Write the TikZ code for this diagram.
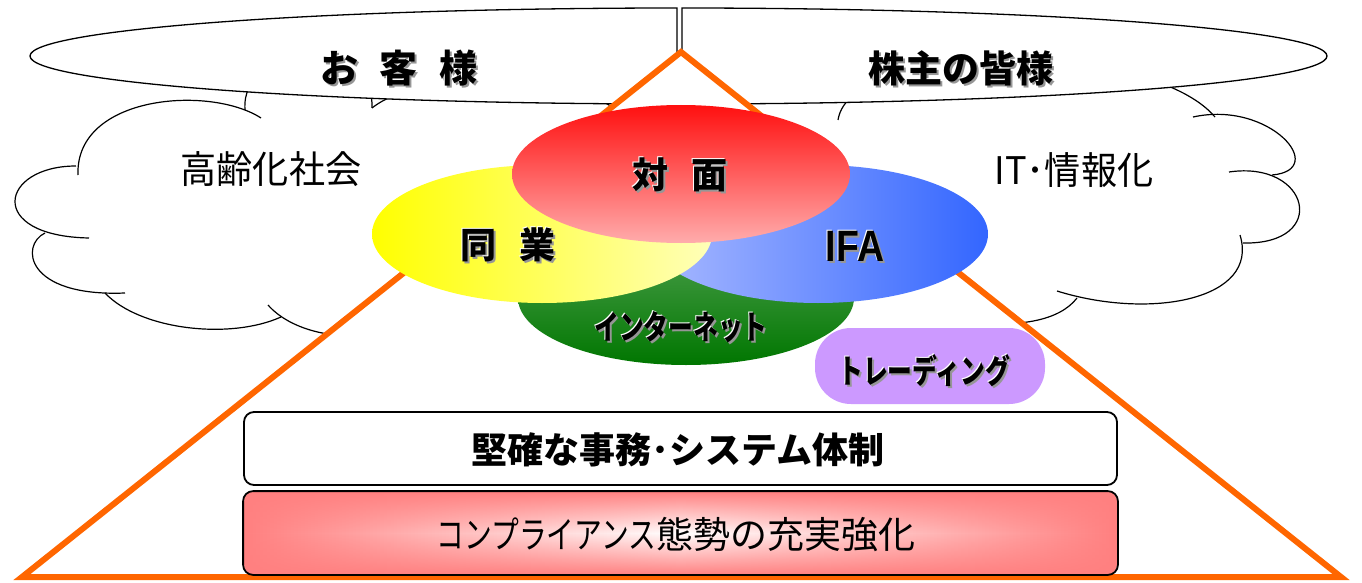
\documentclass[tikz,border=0pt]{standalone}
\usepackage{fontspec}
\setmainfont{Noto Sans CJK JP}
\newfontfamily\jpn{Noto Sans CJK JP}
\newfontfamily\jpnc[FakeStretch=0.75]{Noto Sans CJK JP}
\newfontfamily\jpns[FakeStretch=0.95]{Noto Sans CJK JP}
\newfontfamily\ifaf[FakeStretch=0.85]{Liberation Sans}
\usetikzlibrary{shapes.geometric,fadings}
\definecolor{orng}{RGB}{255,102,0}
\definecolor{shgray}{RGB}{150,150,150}
\definecolor{redtop}{RGB}{255,16,16}
\definecolor{redbot}{RGB}{255,172,172}
\definecolor{yelL}{RGB}{255,255,0}
\definecolor{yelR}{RGB}{255,255,185}
\definecolor{bluL}{RGB}{170,186,255}
\definecolor{bluR}{RGB}{51,102,255}
\definecolor{grnT}{RGB}{82,162,82}
\definecolor{grnB}{RGB}{0,118,0}
\definecolor{purp}{RGB}{204,153,255}
\definecolor{pinkc}{RGB}{255,128,128}
\tikzfading[name=vedge, top color=transparent!0, bottom color=transparent!0, middle color=transparent!100]
\newcommand{\fs}[1]{\fontsize{#1}{#1}\selectfont}
\newcommand{\shl}[4]{%
  \node[shadowtxt] (#1s) at (#2+2,#3+2) {#4};
  \node[halotxt] (#1w) at (#2-1,#3-1) {#4};
  \node[txt] (#1) at (#2,#3) {#4};}
\begin{document}
\begin{tikzpicture}[x=1pt,y=-1pt,
  txt/.style={inner sep=0pt, text=black},
  shadowtxt/.style={inner sep=0pt, text=shgray},
  halotxt/.style={inner sep=0pt, text=white},
  cloudline/.style={draw=black, line width=1.2pt},
  topshape/.style={draw=black, fill=white, line width=1.3pt},
  tri/.style={draw=orng, fill=white, line width=6pt, line join=miter},
  venn/.style={ellipse, inner sep=0pt, draw=none},
  boxa/.style={draw=black, line width=1.8pt, rounded corners=10pt, inner sep=0pt}]
\useasboundingbox (0,0) rectangle (1362,583);
% left cloud
\begin{scope}[cloudline]
\draw (76,166) .. controls (0,166) and (-15,236) .. (89,238);
\draw (45,233) .. controls (20,245) and (25,297) .. (125,293);
\draw (105,293) .. controls (140,330) and (230,340) .. (281,317);
\draw (268,305) .. controls (290,330) and (340,345) .. (400,330);
\draw (78,175) .. controls (75,95) and (210,85) .. (261,118);
\draw (245,110) .. controls (240,40) and (375,40) .. (372,108);
\draw (372,108) .. controls (420,70) and (560,70) .. (600,100);
\draw (600,100) .. controls (700,150) and (650,320) .. (400,330);
% right cloud
\draw (838,120) .. controls (850,40) and (1150,40) .. (1215,117);
\draw (1193,117) .. controls (1270,100) and (1330,170) .. (1272,175);
\draw (1229,172) .. controls (1310,160) and (1330,245) .. (1243,243);
\draw (1240,235) .. controls (1260,300) and (1150,320) .. (1057,291);
\draw (1077,298) .. controls (1060,320) and (1020,330) .. (950,320);
\draw (950,320) .. controls (850,300) and (760,200) .. (760,150);
\end{scope}
% top shapes
\draw[topshape] (677,8) arc[start angle=270, end angle=90, x radius=647, y radius=48] -- cycle;
\draw[topshape] (682,8) arc[start angle=-90, end angle=90, x radius=645, y radius=48] -- cycle;
% triangle
\draw[tri] (681,52) -- (22,577) -- (1341,577) -- cycle;
% venn ellipses
\node[venn, minimum width=336pt, minimum height=134pt, top color=grnT, bottom color=grnB] (green) at (686,298) {};
\node[venn, minimum width=340pt, minimum height=138pt, left color=bluL, right color=bluR] (blue) at (818,234) {};
\node[venn, minimum width=340pt, minimum height=138pt, left color=yelL, right color=yelR] (yellow) at (542,234) {};
\node[venn, minimum width=338pt, minimum height=138pt, top color=redtop, bottom color=redbot] (red) at (681,174) {};
% trading box
\node[rounded corners=36pt, fill=purp, minimum width=230pt, minimum height=76pt, inner sep=0pt] (trbox) at (930,366) {};
% bottom boxes
\node[boxa, fill=white, minimum width=873pt, minimum height=73pt] (box1) at (680.5,448.5) {};
\node[boxa, draw=none, left color=pinkc, right color=pinkc, middle color=white, minimum width=873pt, minimum height=82pt] (box2) at (680.5,533) {};
\fill[pinkc, rounded corners=10pt, path fading=vedge, fit fading=true] (box2.south west) rectangle (box2.north east);
\draw[line width=1.8pt, rounded corners=10pt] (box2.south west) rectangle (box2.north east);
% texts
\shl{okyaku}{399}{68}{\fs{38}\bfseries お\hspace{22pt}客\hspace{22pt}様}
\shl{kabu}{961}{68}{\fs{37}\bfseries 株主の皆様}
\node[txt] (koreika) at (271,169) {\fs{38}\jpns 高齢化社会};
\node[txt] (itj) at (1074,170) {\fs{38}\jpns IT･情報化};
\shl{taimen}{680}{175}{\fs{36}\bfseries 対\hspace{24pt}面}
\shl{dogyo}{508}{245}{\fs{36}\bfseries 同\hspace{24pt}業}
\shl{ifa}{855}{246}{\fs{44}\ifaf\bfseries IFA}
\shl{inet}{681}{327}{\fs{33}\jpnc\bfseries インターネット}
\shl{trade}{924}{371}{\fs{33}\jpnc\bfseries トレーディング}
\node[txt] (kenkaku) at (678,450) {\fs{36}\bfseries 堅確な事務･システム体制};
\node[txt] (comp) at (676,535) {\fs{37}{\jpnc コンプライアンス}態勢の充実強化};
\end{tikzpicture}
\end{document}
